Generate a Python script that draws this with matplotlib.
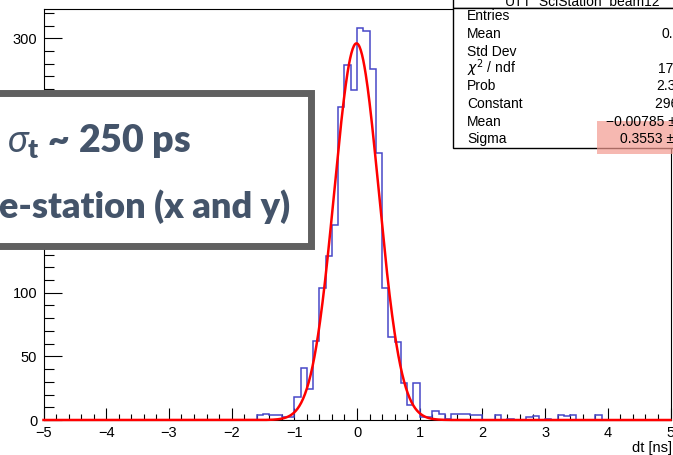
import numpy as np
import matplotlib
matplotlib.use('Agg')
import matplotlib.pyplot as plt
from matplotlib.patches import Rectangle
from matplotlib.ticker import MultipleLocator

W, H = 673, 455

# histogram dt [ns], 100 bins of 0.1 from -5 to 5
x_lo, x_hi, n_bins = -5.0, 5.0, 100
left_tail = [4, 5, 4, 4, 2, 2]                                           # -1.6 .. -1.0
core = [18, 41, 24, 62, 104, 129, 153, 246, 279, 259,
        308, 306, 276, 210, 104, 65, 61, 29, 12, 29]                      # -1.0 .. 1.0
right_tail = [2, 2, 7, 5, 1, 5, 5, 5, 4, 4,
              0, 0, 4, 0, 1, 0, 0, 2, 3, 0,
              1, 0, 4, 3, 4, 0, 0, 0, 4, 0]                               # 1.0 .. 4.0
counts = [0] * 34 + left_tail + core + right_tail + [0] * 10

# gaussian fit
fit_const = 296.0
fit_mean = -0.00785
fit_sigma = 0.3553

stat_title = "UTT_SciStation_beam12"
stat_labels = ["Entries", "Mean", "Std Dev", r"$\chi^{2}$ / ndf", "Prob", "Constant", "Mean", "Sigma"]
stat_values = ["", "0.01237", "", "174.2 / 38", "2.31e-18", "296.1 \u00b1 7.1",
               "\u22120.00785 \u00b1 0.00724", "0.3553 \u00b1 0.0062"]
stat_value_x = [None, 662, None, 658.5, 656.5, 655, 606, 620]

box_line1 = r"$\sigma_{\mathbf{t}}$ ~ 250 ps"
box_line2 = "Single-station (x and y)"

plt.rcParams['mathtext.fontset'] = 'custom'
plt.rcParams['mathtext.it'] = 'Lato:italic'
plt.rcParams['mathtext.rm'] = 'Lato:heavy'
plt.rcParams['mathtext.bf'] = 'Lato:heavy'


def fx(px):
    return px / W


def fy(py):
    return 1 - py / H


fig = plt.figure(figsize=(W / 100, H / 100), dpi=100)
ax = fig.add_axes([fx(43.5), fy(420), fx(670.5) - fx(43.5), fy(9) - fy(420)])

edges = np.linspace(x_lo, x_hi, n_bins + 1)
ax.stairs(counts, edges, color='#4848c8', lw=1.1, zorder=2)

xs = np.linspace(x_lo, x_hi, 1001)
ax.plot(xs, fit_const * np.exp(-0.5 * ((xs - fit_mean) / fit_sigma) ** 2),
        color='red', lw=1.8, zorder=3, clip_on=False)

ax.set_xlim(x_lo, x_hi)
ax.set_ylim(0, 323)
ax.xaxis.set_major_locator(MultipleLocator(1))
ax.xaxis.set_minor_locator(MultipleLocator(0.2))
ax.yaxis.set_major_locator(MultipleLocator(50))
ax.yaxis.set_minor_locator(MultipleLocator(10))
ax.tick_params(which='both', direction='in', top=False, right=False, width=0.8)
ax.tick_params(axis='x', which='major', length=9, pad=4.5)
ax.tick_params(axis='x', which='minor', length=4.5)
ax.tick_params(axis='y', which='major', length=13, pad=4.5)
ax.tick_params(axis='y', which='minor', length=7)
for lab in ax.get_xticklabels() + ax.get_yticklabels():
    lab.set_fontfamily('Liberation Sans')
    lab.set_fontsize(10.5)
for sp in ax.spines.values():
    sp.set_linewidth(0.8)

fig.text(fx(672), fy(452), "dt [ns]", ha='right', va='baseline',
         fontsize=10.5, family='Liberation Sans')

# stats box
fig.add_artist(Rectangle((fx(452.5), fy(8)), fx(720) - fx(452.5), fy(-30) - fy(8),
                         transform=fig.transFigure, fc='white', ec='black', lw=1, zorder=5))
fig.add_artist(Rectangle((fx(452.5), fy(148)), fx(720) - fx(452.5), fy(8) - fy(148),
                         transform=fig.transFigure, fc='white', ec='black', lw=1, zorder=5))
fig.text(fx(505), fy(5.5), stat_title, ha='left', va='baseline', fontsize=10,
         family='Liberation Sans', zorder=6)
for i, lab in enumerate(stat_labels):
    yb = fy(20.5 + 17.5 * i)
    fig.text(fx(467), yb, lab, ha='left', va='baseline', fontsize=10,
             family='Liberation Sans', math_fontfamily='dejavusans', zorder=6)
    if stat_value_x[i] is not None:
        fig.text(fx(stat_value_x[i]), yb, stat_values[i], ha='left', va='baseline',
                 fontsize=10, family='Liberation Sans', zorder=8)
fig.add_artist(Rectangle((fx(597), fy(153.5)), fx(700) - fx(597), fy(121.5) - fy(153.5),
                         transform=fig.transFigure, fc='#f39a90', ec='none', alpha=0.7, zorder=7))

# overlay annotation box
fig.add_artist(Rectangle((fx(-40), fy(246.5)), fx(311) - fx(-40), fy(93.5) - fy(246.5),
                         transform=fig.transFigure, fc='white', ec='#606060', lw=5, zorder=10))
fig.text(fx(191.5), fy(151.7), box_line1, ha='right', va='baseline', fontsize=27,
         fontweight='heavy', family='Lato', color='#44546a', zorder=11)
fig.text(fx(290), fy(218.3), box_line2, ha='right', va='baseline', fontsize=26,
         fontweight='heavy', family='Lato', color='#44546a', zorder=11)

fig.savefig('out.png', dpi=100)
